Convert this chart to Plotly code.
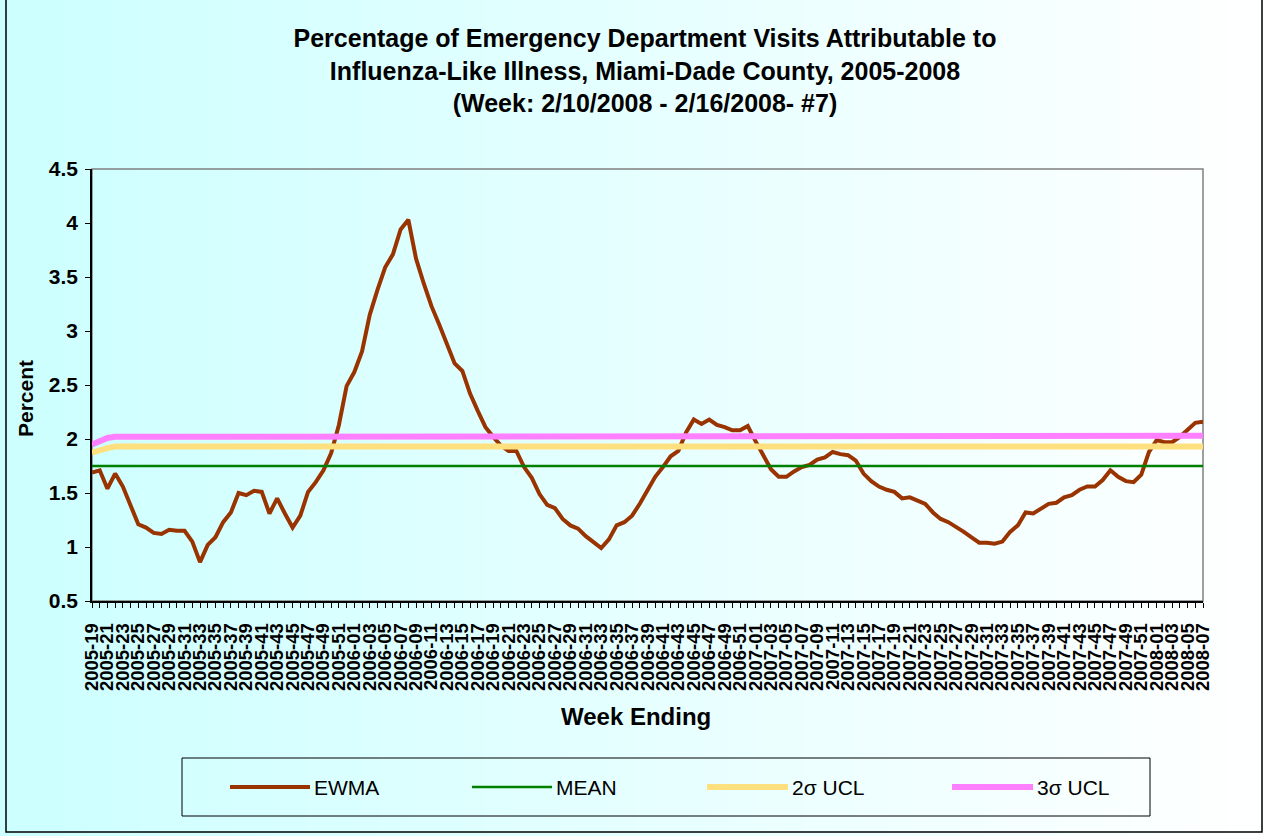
import plotly.graph_objects as go

# ---------------- data ----------------
year_week_ranges = [(2005, 19, 52), (2006, 1, 52), (2007, 1, 52), (2008, 1, 7)]
weeks = [f"{y}-{w:02d}" for (y, a, b) in year_week_ranges for w in range(a, b + 1)]

ewma = [
    1.69, 1.71, 1.54, 1.68, 1.56, 1.39, 1.21, 1.18, 1.13, 1.12, 1.16, 1.15, 1.15, 1.05, 0.86, 1.02,
    1.09, 1.23, 1.32, 1.50, 1.48, 1.52, 1.51, 1.31, 1.45, 1.31, 1.18, 1.29, 1.51, 1.60, 1.71, 1.87,
    2.13, 2.49, 2.62, 2.81, 3.15, 3.38, 3.59, 3.71, 3.94, 4.03, 3.67, 3.44, 3.23, 3.06, 2.88, 2.70,
    2.63, 2.42, 2.26, 2.11, 2.02, 1.94, 1.89, 1.89, 1.74, 1.64, 1.49, 1.39, 1.36, 1.26, 1.20, 1.17,
    1.10, 1.05, 0.99, 1.07, 1.20, 1.23, 1.29, 1.40, 1.53, 1.65, 1.74, 1.84, 1.89, 2.06, 2.18, 2.14,
    2.18, 2.13, 2.11, 2.08, 2.08, 2.12, 1.98, 1.84, 1.72, 1.65, 1.65, 1.70, 1.74,
    1.76, 1.81, 1.83, 1.88, 1.86, 1.85, 1.80, 1.68, 1.61, 1.56, 1.53, 1.51, 1.45, 1.46, 1.43, 1.40,
    1.32, 1.26, 1.23, 1.19, 1.14, 1.09, 1.04, 1.04, 1.03, 1.05, 1.14, 1.20, 1.32, 1.31, 1.36, 1.40,
    1.41, 1.46, 1.48, 1.53, 1.56, 1.56, 1.62, 1.71, 1.65, 1.61, 1.60, 1.67, 1.88, 1.99, 1.97, 1.97,
    2.02, 2.08, 2.15, 2.16,
]
mean = [1.75] * len(weeks)
ucl2 = [1.875, 1.90, 1.915] + [1.93] * (len(weeks) - 3)
ucl3 = [1.95, 1.985, 2.01, 2.02, 2.02, 2.025] + [2.03] * (len(weeks) - 6)

series_names = ["EWMA", "MEAN", "2\u03c3 UCL", "3\u03c3 UCL"]
series_colors = ["#993300", "#008000", "#FFE07F", "#FF80FF"]
series_widths = [4, 2.5, 6, 6]

y_ticks = [0.5, 1, 1.5, 2, 2.5, 3, 3.5, 4, 4.5]
y_ticktext = ["0.5", "1", "1.5", "2", "2.5", "3", "3.5", "4", "4.5"]

title_text = ("Percentage of Emergency Department Visits Attributable to<br>"
              "Influenza-Like Illness, Miami-Dade County, 2005-2008<br>"
              "(Week: 2/10/2008 - 2/16/2008- #7)")

# ---------------- layout geometry (px) ----------------
W, H = 1268, 836
L, R, T, B = 92, 1203, 169, 601
PW, PH = R - L, B - T
FONT = "Liberation Sans, Arial, sans-serif"


def px(x):
    return (x - L) / PW


def py(y):
    return (B - y) / PH


fig = go.Figure()
all_series = [ewma, mean, ucl2, ucl3]
for name, vals, col, wd in zip(series_names, all_series, series_colors, series_widths):
    fig.add_trace(go.Scatter(x=weeks, y=vals, name=name, mode="lines",
                             line=dict(color=col, width=wd), showlegend=False))

shapes = []
# background gradient (light cyan -> white)
n_strips = 120
for k in range(n_strips):
    x0 = k * W / n_strips
    x1 = (k + 1) * W / n_strips + 1
    t = (k + 0.5) / n_strips
    r = int(round(204 + (255 - 204) * t))
    shapes.append(dict(type="rect", xref="paper", yref="paper",
                       x0=px(x0), x1=px(x1), y0=py(H + 2), y1=py(-2),
                       fillcolor=f"rgb({r},255,255)", line=dict(width=0), layer="below"))
# plot-area border (grey)
shapes.append(dict(type="rect", xref="paper", yref="paper", x0=0, x1=1, y0=0, y1=1,
                   line=dict(color="#808080", width=1.5), layer="below"))
# chart-area border
shapes.append(dict(type="rect", xref="paper", yref="paper",
                   x0=px(6), x1=px(1262), y0=py(832), y1=py(-5),
                   line=dict(color="#000000", width=1.5), fillcolor="rgba(0,0,0,0)", layer="above"))
# legend box
shapes.append(dict(type="rect", xref="paper", yref="paper",
                   x0=px(182), x1=px(1150), y0=py(816), y1=py(758),
                   line=dict(color="#000000", width=1), fillcolor="rgba(0,0,0,0)", layer="above"))

annotations = []
legend_x = [(230, 310), (472, 552), (707, 788), (952, 1033)]
leg_y = 787
for (lx0, lx1), name, col, wd in zip(legend_x, series_names, series_colors, series_widths):
    shapes.append(dict(type="line", xref="paper", yref="paper",
                       x0=px(lx0), x1=px(lx1), y0=py(leg_y), y1=py(leg_y),
                       line=dict(color=col, width=wd), layer="above"))
    annotations.append(dict(text=name, xref="paper", yref="paper", x=px(lx1 + 2), y=py(leg_y),
                            xanchor="left", yanchor="middle", showarrow=False,
                            font=dict(family=FONT, size=21, color="#000000")))

# axis titles
annotations.append(dict(text="<b>Percent</b>", xref="paper", yref="paper", x=px(25), y=py(399),
                        textangle=-90, showarrow=False, xanchor="center", yanchor="middle",
                        font=dict(family=FONT, size=21, color="#000000")))
annotations.append(dict(text="<b>Week Ending</b>", xref="paper", yref="paper", x=px(636), y=py(716),
                        showarrow=False, xanchor="center", yanchor="middle",
                        font=dict(family=FONT, size=24, color="#000000")))

tickvals = weeks
ticktext = [w if i % 2 == 0 else "" for i, w in enumerate(weeks)]

fig.update_layout(
    width=W, height=H,
    margin=dict(l=L, r=W - R, t=T, b=H - B, pad=0),
    paper_bgcolor="#FFFFFF",
    plot_bgcolor="rgba(0,0,0,0)",
    title=dict(text=title_text, x=645 / W, xanchor="center", y=1 - 47 / H, yanchor="middle",
               xref="container", yref="container",
               font=dict(family=FONT, size=25, color="#000000", weight="bold")),
    shapes=shapes,
    annotations=annotations,
    showlegend=False,
    xaxis=dict(type="category", range=[0, len(weeks) - 1], tickmode="array",
               tickvals=tickvals, ticktext=ticktext, tickangle=-90,
               ticks="outside", ticklen=5, tickcolor="#000000", tickwidth=1,
               showline=True, linecolor="#000000", linewidth=1.5,
               showgrid=False, zeroline=False, ticklabelstandoff=8,
               tickfont=dict(family=FONT, size=18.5, color="#000000", weight="bold")),
    yaxis=dict(range=[0.5, 4.5], tickmode="array", tickvals=y_ticks, ticktext=y_ticktext,
               ticks="outside", ticklen=5, tickcolor="#000000", tickwidth=1,
               showline=True, linecolor="#000000", linewidth=1.5,
               showgrid=False, zeroline=False, ticklabelstandoff=3,
               tickfont=dict(family=FONT, size=21, color="#000000", weight="bold")),
)

fig.write_html("out.html", config={"displayModeBar": False},
               post_script="document.body.style.margin='0';")
